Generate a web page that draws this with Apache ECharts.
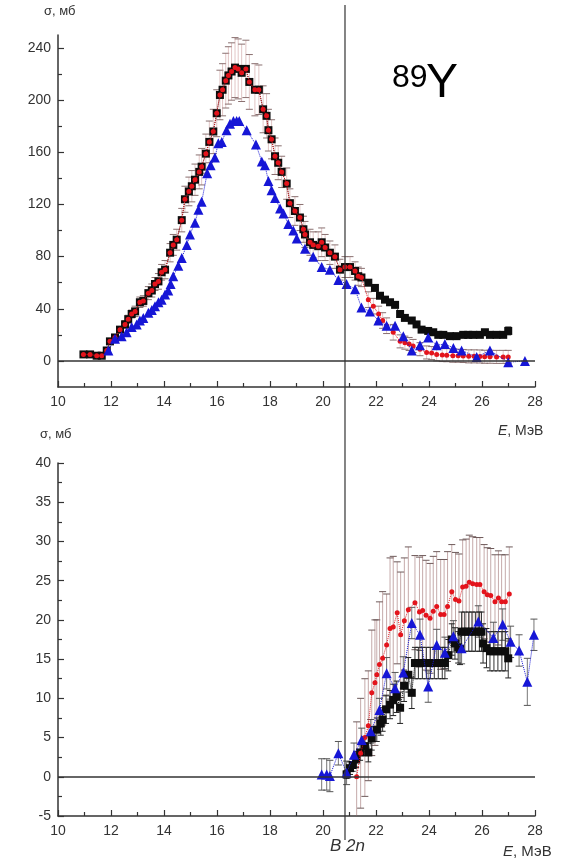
<!DOCTYPE html>
<html>
<head>
<meta charset="utf-8">
<script src="https://cdn.jsdelivr.net/npm/echarts@6/dist/echarts.min.js"></script>
<style>
  html, body { margin: 0; padding: 0; background: #fff; }
  #chart { width: 573px; height: 862px; }
</style>
</head>
<body>
<div id="chart"></div>
<script>
// 89Y photoneutron cross sections: (γ,1n) upper panel, (γ,2n) lower panel.
// Rows are [E (MeV), σ (mb), error (mb)].

const B2N = 20.83; // two-neutron separation energy, MeV

// ---------- upper panel ----------
const topSquares = [
  [10.96,5,1],[11.21,5,1],[11.46,4,1],[11.65,4,1],[11.84,8,1],[11.96,15,1],[12.15,18,1],[12.34,24,1],
  [12.53,28,1],[12.65,32,1],[12.78,36,1],[12.91,38,1],[13.09,45,1],[13.22,46,1],[13.41,52,1],[13.54,54,1],
  [13.66,59,1],[13.79,61,1],[13.91,68,1],[14.04,70,1],[14.23,83,1],[14.35,89,1],[14.48,93,1],[14.67,108,1],
  [14.79,124,1],[14.94,130,1],[15.05,134,1],[15.17,139,1],[15.33,145,1],[15.42,149,1],[15.58,159,1],[15.71,168,1],
  [15.86,176,1],[15.99,190,1],[16.11,204,1],[16.21,208,1],[16.33,215,1],[16.43,219,1],[16.55,222,1],[16.68,225,1],
  [16.80,224,1],[16.93,221,1],[17.09,224,1],[17.22,214,1],[17.43,208,1],[17.58,208,1],[17.74,193,1],[17.87,188,1],
  [17.94,177,1],[18.06,170,1],[18.19,157,1],[18.31,152,1],[18.44,145,1],[18.63,136,1],[18.75,121,1],[18.94,115,1],
  [19.13,110,1],[19.26,101,1],[19.32,97,1],[19.51,91,1],[19.63,89,1],[19.82,88,1],[19.95,91,1],[20.08,87,1],
  [20.26,83,1],[20.45,80,1],[20.64,70,1],[20.83,72,1],[21.02,72,1],[21.21,69,1],[21.33,65,1],[21.45,64,1],
  [21.71,60,2],[21.96,56,2],[22.15,50,2],[22.34,47,2],[22.53,45,2],[22.72,43,2],[22.91,36,2],[23.09,33,2],
  [23.35,31,2],[23.53,28,2],[23.72,24,2],[23.97,23,2],[24.16,22,2],[24.35,20,2],[24.54,20,2],[24.79,19,2],
  [25.04,19,2],[25.29,20,2],[25.48,20,2],[25.67,20,2],[25.92,20,2],[26.11,22,2],[26.30,20,2],[26.55,20,2],
  [26.80,20,2],[26.99,23,3]
];

const topDots = [
  [10.96,5,1],[11.21,5,1],[11.46,4,1],[11.65,4,1],[11.84,8,1],[11.96,15,2],[12.15,18,2],[12.34,24,2],
  [12.53,28,3],[12.65,32,3],[12.78,36,3],[12.91,38,4],[13.09,45,4],[13.22,46,4],[13.41,52,5],[13.54,54,5],
  [13.66,59,5],[13.79,61,6],[13.91,68,6],[14.04,70,7],[14.23,83,7],[14.35,89,8],[14.48,93,8],[14.67,108,9],
  [14.79,124,10],[14.94,130,11],[15.05,134,12],[15.17,139,12],[15.33,145,13],[15.42,149,14],[15.58,159,15],[15.71,168,16],
  [15.86,176,17],[15.99,190,18],[16.11,204,19],[16.21,208,20],[16.33,215,21],[16.43,219,22],[16.55,222,22],[16.68,225,23],
  [16.80,224,23],[16.93,221,22],[17.09,224,22],[17.22,214,21],[17.43,208,20],[17.58,208,19],[17.74,193,18],[17.87,188,17],
  [17.94,177,16],[18.06,170,15],[18.19,157,14],[18.31,152,13],[18.44,145,12],[18.63,136,12],[18.75,121,11],[18.94,115,11],
  [19.13,110,10],[19.26,101,10],[19.32,97,10],[19.51,91,10],[19.63,89,10],[19.82,88,11],[19.95,91,11],[20.08,87,10],
  [20.26,83,9],[20.45,80,9],[20.64,70,8],[20.83,72,8],[21.02,72,8],[21.21,69,7],[21.33,65,7],[21.45,64,7],
  [21.71,47,6],[21.90,42,6],[22.10,36,6],[22.25,31,6],[22.40,27,6],[22.65,22,6],[22.91,15,5],[23.09,14,5],
  [23.25,13,5],[23.40,11.5,5],[23.66,9,5],[23.91,6.5,5],[24.10,6,5],[24.29,5,5],[24.50,4.5,5],[24.67,4.4,5],
  [24.90,4,5],[25.10,4,5],[25.29,3.8,5],[25.50,3.5,5],[25.70,3.5,5],[25.92,3.4,5],[26.10,3.2,5],[26.30,3.2,5],
  [26.55,3.1,5],[26.80,3.1,5],[26.99,3.1,5]
];

const topTriangles = [
  [11.90,8],[12.15,17],[12.40,19],[12.59,22],[12.78,26],[12.97,28],[13.09,31],[13.22,33],
  [13.41,37],[13.54,39],[13.66,42],[13.79,45],[13.91,47],[14.04,51],[14.16,54],[14.25,59],
  [14.35,65],[14.54,73],[14.67,79],[14.86,89],[14.98,97],[15.17,106],[15.30,116],[15.42,122],
  [15.63,144],[15.76,150],[15.92,156],[16.05,167],[16.18,168],[16.36,177],[16.49,182],[16.62,184],
  [16.74,184],[16.84,184],[17.12,177],[17.47,166],[17.69,153],[17.81,150],[17.94,138],[18.06,131],
  [18.19,125],[18.38,117],[18.51,113],[18.69,105],[18.88,100],[19.01,94],[19.32,86],[19.63,80],
  [19.95,72],[20.26,70],[20.58,62],[20.89,59],[21.21,55],[21.45,41],[21.77,38],[22.09,31],
  [22.40,27],[22.72,27],[23.03,19],[23.35,8],[23.66,12],[23.97,18],[24.29,12],[24.60,13],
  [24.92,10],[25.23,8],[25.80,3],[26.30,8],[26.99,-1],[27.62,0]
];

// ---------- lower panel ----------
const botSquares = [
  [20.89,0.3,0.5],[21.02,1.1,0.8],[21.12,1.5,0.8],[21.25,2.2,1],[21.40,3.1,1],[21.58,3.9,1.2],[21.71,3.1,1.2],
  [21.84,4.9,1.5],[22.03,6,1.5],[22.18,6.8,1.5],[22.25,7.3,1.5],[22.38,8.6,1.8],[22.53,9.2,1.8],[22.65,9.8,2],
  [22.78,10.2,2],[22.91,8.8,2],[23.06,11.6,2],[23.22,13,2.2],[23.35,10.7,2],[23.47,14.5,2],[23.60,14.5,2],
  [23.75,14.5,2],[23.90,14.5,2],[24.05,14.5,2],[24.20,14.5,2],[24.35,14.5,2],[24.50,14.5,2],[24.60,14.5,2],
  [24.73,15.5,2],[24.86,17.5,2],[24.98,17,2],[25.10,16.5,2],[25.17,16.3,2],[25.23,18.5,2.5],[25.35,18.5,2.5],
  [25.50,18.5,2.5],[25.62,18.5,2.5],[25.75,18.5,2.5],[25.90,18.5,2.5],[25.98,18.5,2.5],[26.04,17,2.5],
  [26.17,16.4,2.5],[26.30,16,2.5],[26.45,16,2.5],[26.60,16,2.5],[26.75,16,2.5],[26.88,16,2.5],[26.99,15.1,2.5]
];

const botDots = [
  [21.27,0,7],[21.42,3,7],[21.58,5,7.5],[21.71,6.5,7],[21.84,10.7,8],[21.96,12,8],[22.03,13,7],[22.13,14.3,8],
  [22.25,15.1,8.5],[22.40,16.8,6.5],[22.53,18.9,9],[22.65,19.1,9],[22.80,20.9,6.5],[22.93,18.1,8],[23.07,19.9,8],
  [23.22,21.3,8],[23.47,22.2,6],[23.64,21,7],[23.76,21.2,7],[23.89,20.6,7],[24.04,20.2,7],[24.16,21.1,7],
  [24.29,21.7,7],[24.44,20.7,7],[24.57,20.7,7],[24.70,21.7,7],[24.86,23.6,6],[25.00,22.6,6],[25.13,22.4,6],
  [25.27,24.2,6],[25.40,24.3,6],[25.52,24.8,6],[25.65,24.6,6],[25.80,24.5,6],[25.92,24.5,6],[26.08,23.6,6],
  [26.20,23.2,6],[26.33,23.1,6],[26.49,22.3,6],[26.62,22.8,6],[26.74,22.3,6],[26.88,22.3,6],[27.03,23.3,6]
];

const botTriangles = [
  [19.95,0.3,2],[20.14,0.3,2],[20.26,0.1,2],[20.58,3,1.5],[20.89,0.5,1.5],[21.17,2.8,1.5],[21.46,4.7,1.5],
  [21.80,5.8,1.5],[22.13,8.5,1.5],[22.40,13.2,2],[22.72,11.3,2],[23.03,13.3,2],[23.35,19.6,2],[23.66,18.1,2],
  [23.97,11.5,2],[24.29,16.8,2],[24.60,15.8,2],[24.92,17.9,2],[25.23,16.4,2],[25.86,19.8,2],[26.43,17.7,2],
  [26.78,19.4,2],[27.08,17.2,2],[27.40,16.1,2],[27.71,12.1,3],[27.96,18.1,2]
];

// axis tick sets
const topLabelTicks = [0, 40, 80, 120, 160, 200, 240];
const topMinorTicks = [20, 60, 100, 140, 180, 220];

// ---------- styles ----------
const AXIS = '#333';
const RED = '#e3141c';
const BLUE = '#1616d6';
const BLACK = '#0d0d0d';
const FONT = 'Liberation Sans, Arial, sans-serif';

const pts = rows => rows.map(r => [r[0], r[1]]);
const bars = rows => rows.map(r => [r[0], r[1] - r[2], r[1] + r[2]]);

function errorBars(lineColor, capColor, capHalf) {
  return function (params, api) {
    const x = api.value(0), lo = api.value(1), hi = api.value(2);
    const pLo = api.coord([x, lo]);
    const pHi = api.coord([x, hi]);
    const cs = params.coordSys;
    const top = cs.y, bot = cs.y + cs.height;
    const clamp = v => Math.max(top, Math.min(bot, v));
    const children = [{
      type: 'line',
      shape: { x1: pLo[0], y1: clamp(pHi[1]), x2: pLo[0], y2: clamp(pLo[1]) },
      style: { stroke: lineColor, lineWidth: 1 }
    }];
    [pHi, pLo].forEach(p => {
      if (p[1] >= top && p[1] <= bot) {
        children.push({
          type: 'line',
          shape: { x1: p[0] - capHalf, y1: p[1], x2: p[0] + capHalf, y2: p[1] },
          style: { stroke: capColor, lineWidth: 1 }
        });
      }
    });
    return { type: 'group', children };
  };
}

function xAxisFor(gridIndex) {
  return {
    type: 'value', gridIndex, min: 10, max: 28, interval: 2,
    axisLine: { onZero: false, lineStyle: { color: AXIS, width: 1.5 } },
    axisTick: { inside: true, length: 6, lineStyle: { color: AXIS, width: 1.2 } },
    minorTick: { show: true, splitNumber: 2, length: 4, lineStyle: { color: AXIS, width: 1.2 } },
    axisLabel: { color: '#333', fontSize: 14, fontFamily: FONT, margin: 8 },
    splitLine: { show: false }
  };
}

const zeroLine = {
  silent: true, symbol: 'none', animation: false,
  label: { show: false },
  lineStyle: { color: AXIS, width: 1.5, type: 'solid' },
  data: [{ yAxis: 0 }]
};

const option = {
  animation: false,
  backgroundColor: '#fff',
  grid: [
    { left: 58, top: 35, width: 477, height: 352 },
    { left: 58, top: 463, width: 477, height: 353 }
  ],
  xAxis: [xAxisFor(0), xAxisFor(1)],
  yAxis: [
    {
      type: 'value', gridIndex: 0, position: 'left', min: -20, max: 250,
      axisLine: { show: true, onZero: false, lineStyle: { color: AXIS, width: 1.5 } },
      axisTick: { show: true, inside: true, length: 6, customValues: topLabelTicks, lineStyle: { color: AXIS, width: 1.2 } },
      axisLabel: { color: '#333', fontSize: 14, fontFamily: FONT, margin: 7, customValues: topLabelTicks },
      splitLine: { show: false }
    },
    {
      type: 'value', gridIndex: 0, position: 'left', offset: 0, min: -20, max: 250,
      axisLine: { show: false, onZero: false },
      axisTick: { show: true, inside: true, length: 4, customValues: topMinorTicks, lineStyle: { color: AXIS, width: 1.2 } },
      axisLabel: { show: false },
      splitLine: { show: false }
    },
    {
      type: 'value', gridIndex: 1, position: 'left', min: -5, max: 40, interval: 5,
      axisLine: { show: true, onZero: false, lineStyle: { color: AXIS, width: 1.5 } },
      axisTick: { show: true, inside: true, length: 6, lineStyle: { color: AXIS, width: 1.2 } },
      minorTick: { show: true, splitNumber: 2, length: 4, lineStyle: { color: AXIS, width: 1.2 } },
      axisLabel: { color: '#333', fontSize: 14, fontFamily: FONT, margin: 7 },
      splitLine: { show: false }
    }
  ],
  series: [
    // upper panel
    {
      type: 'custom', xAxisIndex: 0, yAxisIndex: 0, silent: true, z: 1,
      renderItem: errorBars('rgba(200,150,150,0.55)', '#8a7070', 3.5),
      data: bars(topDots)
    },
    {
      type: 'custom', xAxisIndex: 0, yAxisIndex: 0, silent: true, z: 1,
      renderItem: errorBars('#444', '#222', 3),
      data: bars(topSquares.filter(r => r[0] > 21.5))
    },
    {
      type: 'line', xAxisIndex: 0, yAxisIndex: 0, z: 2,
      symbol: 'rect', symbolSize: 8,
      itemStyle: { color: BLACK },
      lineStyle: { color: BLACK, width: 1, type: 'dotted' },
      data: pts(topSquares),
      markLine: zeroLine
    },
    {
      type: 'line', xAxisIndex: 0, yAxisIndex: 0, z: 3,
      symbol: 'circle', symbolSize: 5,
      itemStyle: { color: RED },
      lineStyle: { color: RED, width: 1, type: 'dotted' },
      data: pts(topDots)
    },
    {
      type: 'line', xAxisIndex: 0, yAxisIndex: 0, z: 4,
      symbol: 'triangle', symbolSize: 10,
      itemStyle: { color: BLUE },
      lineStyle: { color: BLUE, width: 1, type: 'dotted' },
      data: topTriangles
    },
    // lower panel
    {
      type: 'custom', xAxisIndex: 1, yAxisIndex: 2, silent: true, z: 1,
      renderItem: errorBars('rgba(150,100,100,0.55)', '#6e5a5a', 3.5),
      data: bars(botDots)
    },
    {
      type: 'custom', xAxisIndex: 1, yAxisIndex: 2, silent: true, z: 1,
      renderItem: errorBars('#777', '#555', 3.5),
      data: bars(botTriangles)
    },
    {
      type: 'custom', xAxisIndex: 1, yAxisIndex: 2, silent: true, z: 1,
      renderItem: errorBars('#333', '#222', 3),
      data: bars(botSquares)
    },
    {
      type: 'line', xAxisIndex: 1, yAxisIndex: 2, z: 2,
      symbol: 'rect', symbolSize: 8,
      itemStyle: { color: BLACK },
      lineStyle: { color: BLACK, width: 1, type: 'dotted' },
      data: pts(botSquares),
      markLine: zeroLine
    },
    {
      type: 'line', xAxisIndex: 1, yAxisIndex: 2, z: 3,
      symbol: 'circle', symbolSize: 5,
      itemStyle: { color: RED },
      lineStyle: { color: RED, width: 1, type: 'dotted' },
      data: pts(botDots)
    },
    {
      type: 'line', xAxisIndex: 1, yAxisIndex: 2, z: 4,
      symbol: 'triangle', symbolSize: 10,
      itemStyle: { color: BLUE },
      lineStyle: { color: BLUE, width: 1, type: 'dotted' },
      data: pts(botTriangles)
    }
  ]
};

const chart = echarts.init(document.getElementById('chart'), null, { renderer: 'canvas' });
chart.setOption(option);

// B2n threshold line through both panels, plus titles and axis names
const xB = chart.convertToPixel({ xAxisIndex: 0 }, B2N);
const textStyle = (text, size, extra) => Object.assign({ text, fill: '#222', font: size + 'px ' + FONT }, extra || {});
chart.setOption({
  graphic: [
    { type: 'line', silent: true, z: 100, shape: { x1: xB, y1: 5, x2: xB, y2: 840 }, style: { stroke: '#333', lineWidth: 1.2 } },
    { type: 'text', left: 44, top: 5, style: textStyle('σ, мб', 13, { fill: '#333' }) },
    { type: 'text', left: 40, top: 428, style: textStyle('σ, мб', 13, { fill: '#333' }) },
    { type: 'text', left: 392, top: 62, style: textStyle('89', 32, { fill: '#000' }) },
    { type: 'text', left: 426, top: 60, style: textStyle('Y', 48, { fill: '#000' }) },
    { type: 'text', left: 498, top: 424, style: { rich: { e: { fontStyle: 'italic', fontSize: 14, fontFamily: FONT, fill: '#333' }, r: { fontSize: 14, fontFamily: FONT, fill: '#333' } }, text: '{e|E}{r|, МэВ}' } },
    { type: 'text', left: 503, top: 844, style: { rich: { e: { fontStyle: 'italic', fontSize: 15, fontFamily: FONT, fill: '#333' }, r: { fontSize: 15, fontFamily: FONT, fill: '#333' } }, text: '{e|E}{r|, МэВ}' } },
    { type: 'text', left: 330, top: 838, style: textStyle('B 2n', 17, { fill: '#333', fontStyle: 'italic', font: 'italic 17px ' + FONT }) }
  ]
});
</script>
</body>
</html>
